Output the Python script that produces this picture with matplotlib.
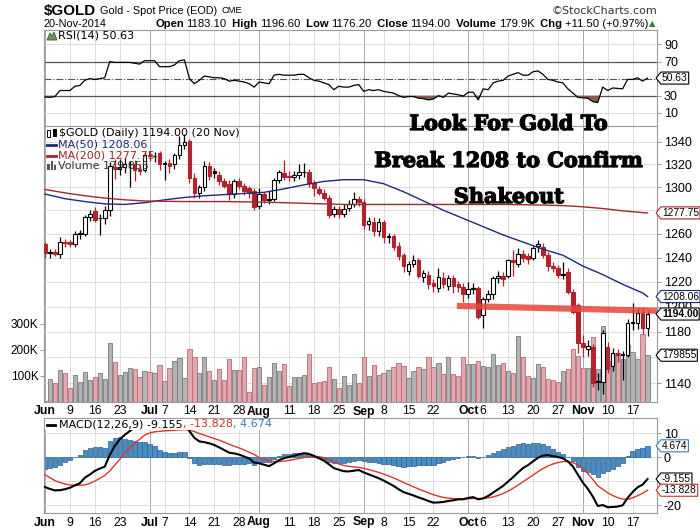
import matplotlib
matplotlib.use("Agg")
import matplotlib.pyplot as plt
import matplotlib.patheffects as pe
import numpy as np
import pandas as pd
from matplotlib import font_manager
from matplotlib.lines import Line2D
from matplotlib.patches import Rectangle, Polygon
from matplotlib.path import Path
from matplotlib.ticker import FixedLocator, FixedFormatter, NullLocator

W, H = 700, 530

# ---- data --------------------------------------------------------------
holidays = ["2014-07-04", "2014-09-01"]
days = pd.bdate_range("2014-06-02", "2014-11-20")
days = days[~days.isin(pd.to_datetime(holidays))]

opens = [1251, 1244, 1245, 1243, 1253, 1253, 1251, 1260, 1260, 1274,
         1279, 1273, 1273, 1280, 1318, 1316, 1318, 1320, 1320, 1316,
         1315, 1328, 1327, 1330, 1320, 1321, 1320, 1328, 1337, 1341,
         1308, 1295, 1300, 1319, 1314, 1311, 1305, 1303, 1294, 1305,
         1301, 1299, 1297, 1284, 1294, 1289, 1290, 1306, 1312, 1310,
         1309, 1311, 1313, 1313, 1304, 1298, 1295, 1291, 1277, 1281,
         1277, 1282, 1285, 1290, 1287, 1268, 1270, 1262, 1270, 1257,
         1258, 1250, 1242, 1229, 1235, 1238, 1224, 1226, 1219, 1215,
         1223, 1217, 1223, 1218, 1216, 1210, 1214, 1215, 1193, 1206,
         1210, 1223, 1225, 1225, 1238, 1235, 1243, 1241, 1240, 1250,
         1249, 1242, 1233, 1231, 1226, 1228, 1212, 1201, 1171, 1166,
         1168, 1141, 1141, 1168, 1153, 1163, 1162, 1162, 1187, 1187,
         1195, 1183.1]
highs = [1253, 1247, 1247, 1257, 1256, 1255, 1262, 1263, 1276, 1280,
         1283, 1277, 1284, 1322, 1325, 1325, 1326, 1323, 1324, 1320,
         1331, 1332, 1331, 1332, 1323, 1325, 1330, 1345, 1347, 1343,
         1312, 1302, 1323, 1322, 1317, 1314, 1308, 1306, 1307, 1308,
         1304, 1301, 1299, 1299, 1296, 1297, 1308, 1315, 1324, 1314,
         1314, 1320, 1321, 1316, 1306, 1301, 1298, 1293, 1284, 1284,
         1285, 1289, 1296, 1292, 1290, 1274, 1274, 1273, 1272, 1261,
         1260, 1253, 1244, 1237, 1242, 1240, 1230, 1229, 1222, 1231,
         1228, 1226, 1226, 1221, 1219, 1220, 1219, 1217, 1208, 1213,
         1225, 1229, 1228, 1239, 1246, 1248, 1246, 1244, 1250, 1255,
         1252, 1245, 1236, 1234, 1236, 1231, 1214, 1203, 1177, 1173,
         1170, 1148, 1181, 1172, 1167, 1166, 1165, 1190, 1203, 1199,
         1200, 1196.6]
lows = [1240, 1240, 1241, 1240, 1249, 1249, 1249, 1256, 1258, 1271,
        1270, 1259, 1268, 1275, 1307, 1311, 1312, 1300, 1305, 1311,
        1313, 1323, 1322, 1315, 1306, 1312, 1316, 1325, 1334, 1304,
        1291, 1291, 1297, 1306, 1308, 1302, 1299, 1289, 1291, 1298,
        1293, 1291, 1280, 1281, 1286, 1285, 1288, 1304, 1306, 1305,
        1305, 1307, 1309, 1300, 1292, 1293, 1289, 1273, 1274, 1273,
        1274, 1279, 1283, 1284, 1264, 1263, 1258, 1258, 1252, 1252,
        1246, 1238, 1228, 1226, 1232, 1223, 1220, 1214, 1212, 1212,
        1215, 1213, 1211, 1212, 1204, 1207, 1210, 1190, 1183, 1204,
        1206, 1219, 1217, 1223, 1225, 1232, 1236, 1235, 1238, 1245,
        1240, 1229, 1228, 1223, 1222, 1210, 1194, 1163, 1160, 1161,
        1137, 1135, 1132, 1148, 1149, 1156, 1142, 1160, 1181, 1182,
        1178, 1176.2]
closes = [1244, 1245, 1243, 1253, 1252, 1251, 1260, 1260, 1274, 1277,
          1272, 1273, 1280, 1319, 1316, 1318, 1320, 1320, 1315, 1314,
          1328, 1327, 1327, 1320, 1321, 1319, 1328, 1337, 1340, 1308,
          1295, 1300, 1319, 1310, 1312, 1305, 1301, 1294, 1305, 1301,
          1297, 1295, 1283, 1294, 1289, 1290, 1306, 1313, 1309, 1308.5,
          1311, 1313, 1313, 1304, 1299, 1295, 1291, 1276, 1281, 1277,
          1281, 1285, 1290, 1287, 1267, 1271, 1262, 1270, 1257, 1258,
          1249, 1241, 1233, 1235, 1238, 1225, 1227, 1218, 1217, 1224,
          1218, 1223, 1217, 1216, 1210, 1214, 1215, 1192, 1206, 1210,
          1223, 1225, 1222, 1238, 1236, 1243, 1240, 1239, 1248, 1251,
          1242, 1233, 1231, 1226, 1226.5, 1212, 1196, 1171, 1168, 1169,
          1140, 1141, 1179, 1151, 1163, 1162, 1162.5, 1187, 1187.5, 1195,
          1183.1, 1194.0]
volume_k = [5, 88, 72, 123, 110, 53, 104, 76, 115, 85,
            95, 110, 88, 226, 154, 103, 114, 130, 126, 95,
            119, 115, 110, 141, 81, 130, 157, 168, 91, 204,
            172, 110, 172, 119, 85, 126, 85, 164, 123, 123,
            172, 37, 130, 133, 64, 95, 149, 119, 145, 62,
            95, 95, 103, 183, 72, 76, 80, 133, 88, 53,
            100, 65, 106, 72, 174, 99, 141, 103, 113, 123,
            133, 149, 138, 91, 120, 133, 126, 172, 133, 149,
            106, 174, 106, 100, 174, 145, 146, 159, 138, 136,
            185, 142, 151, 119, 113, 254, 174, 100, 94, 146,
            133, 87, 85, 76, 120, 127, 203, 177, 130, 130,
            249, 126, 292, 157, 187, 187, 167, 219, 193, 164,
            262, 179.855]

ma50_idx = [0, 4, 8, 12, 16, 20, 24, 28, 32, 36, 40, 44, 48, 52, 56, 60,
            64, 68, 72, 76, 80, 84, 88, 92, 96, 100, 104, 108, 112, 116,
            120, 121]
ma50_val = [1294, 1290, 1287.5, 1285.5, 1285, 1286.5, 1289, 1291, 1292.5,
            1293.5, 1294.5, 1295.5, 1298.5, 1302, 1305, 1306.5, 1306.5,
            1303, 1296, 1288, 1280, 1273, 1266, 1259, 1253, 1247, 1242,
            1233, 1226, 1218, 1211, 1208.06]
ma200_idx = [0, 4, 8, 12, 16, 20, 28, 36, 44, 52, 60, 68, 76, 84, 92, 100,
             104, 108, 112, 116, 120, 121]
ma200_val = [1298, 1295, 1292.5, 1290.5, 1289, 1288, 1287.5, 1287.5, 1287,
             1286, 1285, 1285, 1285, 1285, 1285, 1284.5, 1284, 1283, 1281.5,
             1279.5, 1278, 1277.75]

rsi = [28.5, 28, 29, 36, 36, 36, 41, 42, 48, 50, 49, 50, 51, 70, 69, 69,
       69, 69, 68, 67, 71, 71, 71, 64, 64, 64, 66, 71, 72, 50, 44, 48,
       53, 52, 51, 51, 50, 47, 48, 47, 46, 44, 40, 46, 45, 44, 54, 55,
       54, 54, 54, 55, 55, 51, 48, 47, 45, 43, 37, 41, 40, 40, 42, 43,
       35, 37, 36, 37, 35, 34, 33, 30, 28, 29, 29, 27, 26.5, 25, 26, 30,
       28, 33, 32, 31, 29.5, 34, 34, 25, 38, 37, 45, 47, 48, 53, 55, 57,
       54, 54, 58, 59, 55, 49, 48, 46, 45, 38, 33, 28, 27.5, 27, 23, 22,
       40, 36, 39, 38.5, 38, 49, 49, 51, 47, 50.63]

macd = [-12.5, -13.3, -13.9, -13.8, -13.4, -12.8, -11.8, -10.9, -8.6, -7.3,
        -5.8, -4.8, -4.0, 0.8, 4.6, 7.3, 9.2, 10.8, 12.3, 13.8,
        15.2, 15.4, 15.0, 13.6, 13.0, 12.7, 12.8, 13.3, 13.5, 10.8,
        8.0, 6.5, 6.2, 5.7, 5.0, 4.0, 2.9, 1.8, 1.5, 1.0,
        0.2, -0.6, -2.3, -2.6, -3.2, -3.8, -2.6, -1.3, -0.5, 0.0,
        0.5, 1.1, 1.6, 1.3, 0.5, -0.5, -1.5, -3.0, -4.6, -5.3,
        -5.9, -6.0, -5.7, -5.4, -6.4, -7.2, -8.0, -8.8, -9.8, -10.9,
        -12.0, -13.4, -14.6, -15.3, -16.0, -16.8, -17.5, -18.3, -19.0, -18.9,
        -18.7, -18.3, -18.0, -17.6, -17.6, -17.0, -16.7, -17.6, -17.2, -16.2,
        -14.8, -13.4, -12.0, -10.2, -8.4, -6.4, -4.6, -3.4, -1.8, -0.3,
        0.6, 0.8, 0.4, 0.0, -0.5, -1.8, -3.9, -7.3, -10.6, -13.2,
        -16.4, -20.4, -20.0, -20.9, -20.8, -20.6, -20.1, -17.0, -14.6, -12.6,
        -11.5, -9.155]
signal = [-7.4, -8.6, -9.8, -10.6, -11.2, -11.6, -11.8, -11.8, -11.6, -11.0,
          -10.0, -8.9, -7.7, -5.8, -3.4, -1.0, 1.6, 3.8, 5.8, 7.4,
          9.1, 10.0, 10.5, 10.7, 10.9, 11.0, 11.1, 11.3, 11.4, 11.3,
          10.6, 9.8, 9.1, 8.4, 7.7, 7.0, 6.2, 5.3, 4.5, 3.8,
          2.9, 2.0, 1.1, -0.2, -1.0, -1.6, -1.9, -1.9, -1.7, -1.4,
          -1.0, -0.6, -0.2, 0.1, 0.2, 0.1, -0.2, -1.0, -2.0, -2.9,
          -3.5, -3.9, -4.1, -4.3, -4.7, -5.2, -5.8, -6.4, -7.1, -7.9,
          -8.7, -9.6, -10.6, -11.5, -12.4, -13.3, -14.1, -14.9, -15.7, -16.3,
          -16.8, -17.1, -17.3, -17.4, -17.5, -17.4, -17.2, -17.3, -17.3, -17.0,
          -16.6, -16.0, -15.2, -14.2, -13.0, -11.7, -10.3, -8.9, -7.5, -6.1,
          -4.8, -3.7, -2.9, -2.3, -1.9, -1.9, -2.3, -3.3, -4.8, -6.9,
          -9.3, -12.0, -13.4, -14.9, -16.0, -16.9, -17.5, -17.6, -17.0, -16.1,
          -15.1, -13.828]

tick_dates = ["2014-06-02", "2014-06-09", "2014-06-16", "2014-06-23",
              "2014-07-01", "2014-07-07", "2014-07-14", "2014-07-21",
              "2014-07-28", "2014-08-01", "2014-08-11", "2014-08-18",
              "2014-08-25", "2014-09-02", "2014-09-08", "2014-09-15",
              "2014-09-22", "2014-10-01", "2014-10-06", "2014-10-13",
              "2014-10-20", "2014-10-27", "2014-11-03", "2014-11-10",
              "2014-11-17"]
tick_labels = ["Jun", "9", "16", "23", "Jul", "7", "14", "21", "28", "Aug",
               "11", "18", "25", "Sep", "8", "15", "22", "Oct", "6", "13",
               "20", "27", "Nov", "10", "17"]
months = {"Jun", "Jul", "Aug", "Sep", "Oct", "Nov"}

price_grid = [1140, 1160, 1180, 1200, 1220, 1240, 1260, 1280, 1300, 1320, 1340]
price_labels = [1140, 1180, 1200, 1220, 1240, 1260, 1300, 1320, 1340]
vol_ticks = [100, 200, 300]
rsi_ticks = [10, 30, 70, 90]
macd_grid = [10, 0, -10, -20]
macd_labels = [10, 0, -20]

break_x = [82.7, 124]          # hand-drawn "break" line
break_y = [1200.5, 1196.5]

note_lines = ["Look For Gold To", "Break 1208 to Confirm", "Shakeout"]

# ---- setup --------------------------------------------------------------
names = {f.name for f in font_manager.fontManager.ttflist}
NARROW = "Liberation Sans Narrow" if "Liberation Sans Narrow" in names else "Liberation Sans"
narrow_scale = 1.0 if NARROW == "Liberation Sans Narrow" else 0.84
plt.rcParams["font.family"] = ["Liberation Sans", "DejaVu Sans"]

x = np.arange(len(days))
o = np.array(opens); h = np.array(highs); l = np.array(lows); c = np.array(closes)
prev = np.concatenate([[o[0]], c[:-1]])
RED = "#b3232f"
cand_col = np.where(c >= prev, "black", RED)
cand_face = np.where(c >= o, "white", cand_col)
vol_face = np.where(c >= prev, "#b3b3b3", "#e2a9b1")
vol_edge = np.where(c >= prev, "#7a7a7a", "#b86c79")
hist = np.array(macd) - np.array(signal)
tick_pos = [days.get_loc(pd.Timestamp(d)) for d in tick_dates]

fig = plt.figure(figsize=(W / 100, H / 100), dpi=100)


def rect(x0, y0, x1, y1):
    return [x0 / W, 1 - y1 / H, (x1 - x0) / W, (y1 - y0) / H]


def fx(px):
    return px / W


def fy(py):
    return 1 - py / H


ax_r = fig.add_axes(rect(44, 30, 657, 126))
ax_v = fig.add_axes(rect(44, 126, 657, 402), sharex=ax_r)
ax_p = fig.add_axes(rect(44, 126, 657, 402), sharex=ax_r)
ax_m = fig.add_axes(rect(44, 418, 657, 513), sharex=ax_r)
ax_p.patch.set_visible(False)
for s in ax_p.spines.values():
    s.set_visible(False)

for ax in (ax_r, ax_v, ax_m):
    for s in ax.spines.values():
        s.set_color("#9a9a9a")
        s.set_linewidth(0.8)
for ax in (ax_r, ax_v, ax_p, ax_m):
    ax.tick_params(axis="x", length=0, labelbottom=False)
ax_r.set_xlim(-0.2, 122.9)

# vertical grid
for pos, lab in zip(tick_pos, tick_labels):
    col = "#a8a8a8" if lab in months else "#dcdcdc"
    for ax in (ax_r, ax_v, ax_m):
        ax.axvline(pos, color=col, lw=0.7, zorder=0)

# ---- RSI panel ----------------------------------------------------------
ax_r.set_ylim(-5.6, 107)
for lv in (10, 90):
    ax_r.axhline(lv, color="#dcdcdc", lw=0.7, zorder=0)
ax_r.axhline(70, color="#555555", lw=0.9, zorder=1)
ax_r.axhline(30, color="#555555", lw=0.9, zorder=1)
ax_r.axhline(50, color="#555555", lw=0.8, ls="-.", zorder=1)
rsi_a = np.array(rsi)
ax_r.fill_between(x, rsi_a, 30, where=rsi_a < 30, interpolate=True,
                  color="#8a5a55", lw=0, zorder=2)
ax_r.plot(x, rsi_a, color="black", lw=0.9, zorder=3)
ax_r.yaxis.tick_right()
ax_r.yaxis.set_major_locator(FixedLocator(rsi_ticks))
ax_r.yaxis.set_major_formatter(FixedFormatter([str(t) for t in rsi_ticks]))
ax_r.tick_params(axis="y", length=3, width=0.6, color="#888888", labelsize=9, pad=2)

# ---- price + volume panel ----------------------------------------------
ax_p.set_yscale("log")
ax_p.set_ylim(1125.6, 1354.4)
ax_p.yaxis.tick_right()
ax_p.yaxis.set_major_locator(FixedLocator(price_labels))
ax_p.yaxis.set_major_formatter(FixedFormatter([str(t) for t in price_labels]))
ax_p.yaxis.set_minor_locator(NullLocator())
ax_p.tick_params(axis="y", length=3, width=0.6, color="#888888", labelsize=9, pad=2)

ax_v.set_ylim(0, 1061.5)
ax_v.yaxis.tick_left()
ax_v.yaxis.set_major_locator(FixedLocator(vol_ticks))
ax_v.yaxis.set_major_formatter(FixedFormatter([f"{t}K" for t in vol_ticks]))
ax_v.tick_params(axis="y", length=3, width=0.6, color="#888888", labelsize=8.5, pad=1)
for lv in price_grid:
    ax_v.plot([0, 1], [lv, lv], transform=ax_p.get_yaxis_transform(),
              color="#dcdcdc", lw=0.7, zorder=0)
ax_v.bar(x, volume_k, width=0.85, color=vol_face, edgecolor=vol_edge, lw=0.6, zorder=2)

ax_p.vlines(x, l, h, colors=cand_col, lw=0.9, zorder=3)
body_lo = np.minimum(o, c)
body_h = np.maximum(np.abs(c - o), 0.35)
ax_p.bar(x, body_h, bottom=body_lo, width=0.72, color=cand_face,
         edgecolor=cand_col, lw=0.8, zorder=4)
ax_p.plot(ma50_idx, ma50_val, color="#1c2a78", lw=1.0, zorder=5)
ax_p.plot(ma200_idx, ma200_val, color="#a0282d", lw=1.0, zorder=5)
ax_p.plot(break_x, break_y, color="#e6453c", lw=4.5, alpha=0.85,
          solid_capstyle="butt", zorder=6)

# ---- MACD panel ---------------------------------------------------------
ax_m.set_ylim(-23.3, 16.25)
for lv in macd_grid:
    ax_m.axhline(lv, color="#dcdcdc", lw=0.7, zorder=0)
ax_m.bar(x, hist, width=0.85, color="#4a8cc4", edgecolor="#2b5f90", lw=0.5, zorder=2)
ax_m.plot(x, signal, color="#d9372b", lw=1.0, zorder=3)
ax_m.plot(x, macd, color="black", lw=1.5, zorder=4)
ax_m.yaxis.tick_right()
ax_m.yaxis.set_major_locator(FixedLocator(macd_labels))
ax_m.yaxis.set_major_formatter(FixedFormatter([str(t) for t in macd_labels]))
ax_m.tick_params(axis="y", length=3, width=0.6, color="#888888", labelsize=9, pad=2)

# x labels under price and MACD panels
for ax, hpx in ((ax_v, 276), (ax_m, 95)):
    for pos, lab in zip(tick_pos, tick_labels):
        ax.text(pos, -12.5 / hpx, lab, transform=ax.get_xaxis_transform(),
                ha="center", va="baseline", fontsize=8.8, clip_on=False,
                fontweight="bold" if lab in months else "normal")


# ---- value tags on the right (pointed boxes) ---------------------------
def tag_shape(x0, y0, width, height, mutation_size):
    pad = 0.1 * mutation_size
    x0, y0 = x0 - pad, y0 - pad
    width, height = width + 2 * pad, height + 2 * pad
    tip = 0.4 * height
    verts = [(x0 - tip, y0 + height / 2), (x0, y0), (x0 + width, y0),
             (x0 + width, y0 + height), (x0, y0 + height),
             (x0 - tip, y0 + height / 2)]
    codes = [Path.MOVETO] + [Path.LINETO] * 4 + [Path.CLOSEPOLY]
    return Path(verts, codes)


def tag(ax, val, txt, ec, bold=False):
    ax.text(1.008, val, txt, transform=ax.get_yaxis_transform(), ha="left",
            va="center", fontsize=8.8 * narrow_scale, family=NARROW,
            clip_on=False, zorder=10, fontweight="bold" if bold else "normal",
            bbox=dict(boxstyle=tag_shape, fc="white", ec=ec, lw=0.8))


tag(ax_r, rsi[-1], "50.63", "black")
tag(ax_p, ma200_val[-1], "1277.75", "#a0282d")
tag(ax_p, ma50_val[-1], "1208.06", "#1c2a78")
tag(ax_p, closes[-1], "1194.00", "black", bold=True)
tag(ax_v, volume_k[-1], "179855", "black")
tag(ax_m, hist[-1], "4.674", "#3b7bb0")
tag(ax_m, macd[-1], "-9.155", "black")
tag(ax_m, signal[-1], "-13.828", "#c0392b")

# ---- header and legends -------------------------------------------------
renderer = fig.canvas.get_renderer()


def runs(x0, y0, parts, align="left", gap=3.0):
    texts, widths = [], []
    for s, kw in parts:
        t = fig.text(0, fy(y0), s, va="center", ha="left", **kw)
        texts.append(t)
        widths.append(t.get_window_extent(renderer).width)
    total = sum(widths) + gap * (len(parts) - 1)
    xx = x0 - total if align == "right" else x0
    for t, w in zip(texts, widths):
        t.set_x(fx(xx))
        xx += w + gap
    return xx


nb = dict(family=NARROW, fontsize=9.3 * narrow_scale)
runs(44, 10.5, [("$GOLD", dict(family=NARROW, fontsize=13 * narrow_scale, fontweight="bold")),
                ("Gold - Spot Price (EOD)", nb),
                ("CME", dict(family=NARROW, fontsize=8 * narrow_scale))], gap=4)
fig.text(fx(657), fy(10.5), "\u00a9StockCharts.com", ha="right", va="center",
         fontsize=8, color="#333333", family="DejaVu Sans")
fig.text(fx(44), fy(24), "20-Nov-2014", ha="left", va="center", **nb)
bold = dict(family=NARROW, fontsize=9.6 * narrow_scale, fontweight="bold")
reg = dict(family=NARROW, fontsize=9.6 * narrow_scale)
runs(648, 24, [("Open", bold), ("1183.10", reg), (" High", bold), ("1196.60", reg),
               (" Low", bold), ("1176.20", reg), (" Close", bold), ("1194.00", reg),
               (" Volume", bold), ("179.9K", reg), (" Chg", bold),
               ("+11.50 (+0.97%)", reg)], align="right", gap=2.6)
fig.text(fx(649), fy(24), "\u25b2", ha="left", va="center", fontsize=6,
         color="#3d7a3d", family="DejaVu Sans")

leg = dict(family="DejaVu Sans", fontsize=8)
# RSI legend
fig.add_artist(Polygon([(fx(47), fy(40)), (fx(50), fy(33)), (fx(52), fy(36)),
                        (fx(54), fy(32)), (fx(57), fy(40))], closed=True,
                       fc="#6e9460", ec="#3b5a36", lw=0.6, transform=fig.transFigure))
fig.text(fx(58), fy(36), "RSI(14) 50.63", va="center", ha="left", **leg)

# price legend
fig.add_artist(Rectangle((fx(47.5), fy(137)), 3 / W, 7 / H, fc="white", ec="black",
                         lw=0.7, transform=fig.transFigure))
fig.add_artist(Rectangle((fx(52.5), fy(136)), 3 / W, 7 / H, fc="black", ec="black",
                         lw=0.7, transform=fig.transFigure))
fig.text(fx(59), fy(133), "$GOLD (Daily) 1194.00 (20 Nov)", va="center", ha="left", **leg)
fig.add_artist(Line2D([fx(47), fx(56)], [fy(144.5)] * 2, color="#1c2a78", lw=2))
fig.text(fx(58), fy(144.5), "MA(50) 1208.06", va="center", ha="left", color="#1c2a78", **leg)
fig.add_artist(Line2D([fx(47), fx(56)], [fy(155.5)] * 2, color="#a0282d", lw=2))
fig.text(fx(58), fy(155.5), "MA(200) 1277.75", va="center", ha="left", color="#a0282d", **leg)
for bx, bh in ((47.5, 6), (50.5, 9), (53.5, 5)):
    fig.add_artist(Rectangle((fx(bx), fy(170)), 2 / W, bh / H, fc="#555555", ec="none",
                             transform=fig.transFigure))
fig.text(fx(58), fy(166), "Volume 179,855", va="center", ha="left", color="#333333", **leg)

# MACD legend
fig.add_artist(Rectangle((fx(45), fy(430)), 236 / W, 11.5 / H, fc="white", ec="none",
                         transform=fig.transFigure))
fig.add_artist(Line2D([fx(47), fx(55)], [fy(424.5)] * 2, color="black", lw=2))
runs(59, 424.5, [("MACD(12,26,9) -9.155", dict(leg, color="black")),
                 (", -13.828", dict(leg, color="#c0392b")),
                 (", 4.674", dict(leg, color="#3b7bb0"))], gap=0)

# big annotation
for yy, line in zip((124, 161, 197), note_lines):
    fig.text(fx(509), fy(yy), line, ha="center", va="center", fontsize=15,
             family="DejaVu Serif", fontweight="bold", color="black",
             path_effects=[pe.withStroke(linewidth=0.9, foreground="black")])

fig.savefig("out.png", dpi=100)
